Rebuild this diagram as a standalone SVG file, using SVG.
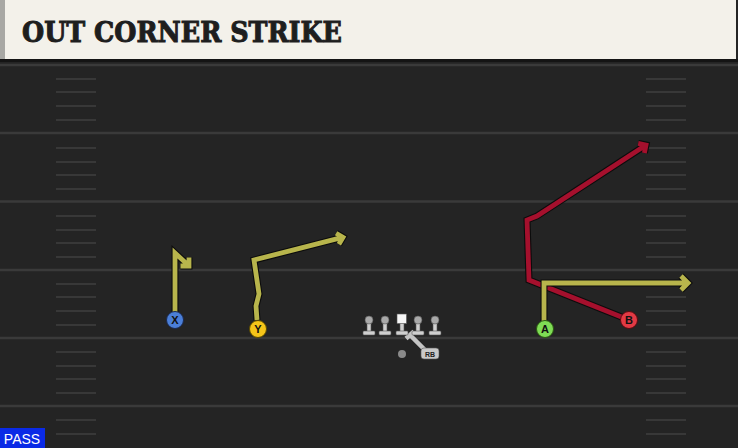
<svg xmlns="http://www.w3.org/2000/svg" width="738" height="448" viewBox="0 0 738 448">
<defs>
<style>
.yl{stroke:#3a3a3a;stroke-width:2.5}
.hm{stroke:#383838;stroke-width:2}
.rt-o{fill:none;stroke:#0c0c0c;stroke-width:7;stroke-linejoin:miter;stroke-linecap:butt}
.rt-y{fill:none;stroke:#b8b54c;stroke-width:4.8;stroke-linejoin:miter}
.rt-r{fill:none;stroke:#a5102d;stroke-width:4.8;stroke-linejoin:miter}
.lbl{font-family:"Liberation Sans",Arial,sans-serif;font-weight:bold;font-size:11px;text-anchor:middle;fill:#111}
.ol{fill:#cfcfcf;stroke:#555;stroke-width:0.6}
.olh{fill:#a9a9a9;stroke:#555;stroke-width:0.6}
</style>
<g id="lineman">
<rect x="-2" y="-8" width="4" height="8.5" class="ol"/>
<circle cx="0" cy="-11" r="4" class="olh"/>
<rect x="-6" y="0" width="12" height="4" rx="1" class="ol"/>
</g>
</defs>
<rect width="738" height="448" fill="#242424"/>
<g id="field">
<line x1="0" y1="65" x2="738" y2="65" class="yl"/>
<line x1="0" y1="133" x2="738" y2="133" class="yl"/>
<line x1="0" y1="201.5" x2="738" y2="201.5" class="yl"/>
<line x1="0" y1="270" x2="738" y2="270" class="yl"/>
<line x1="0" y1="338" x2="738" y2="338" class="yl"/>
<line x1="0" y1="406" x2="738" y2="406" class="yl"/>
<g class="hm">
<path d="M56,79H96M56,92H96M56,106H96M56,120H96M56,148H96M56,162H96M56,175H96M56,189H96M56,216H96M56,230H96M56,243H96M56,257H96M56,284H96M56,297H96M56,311H96M56,325H96M56,352H96M56,366H96M56,379H96M56,393H96M56,420H96M56,434H96"/>
<path d="M646,79H686M646,92H686M646,106H686M646,120H686M646,148H686M646,162H686M646,175H686M646,189H686M646,216H686M646,230H686M646,243H686M646,257H686M646,284H686M646,297H686M646,311H686M646,325H686M646,352H686M646,366H686M646,379H686M646,393H686M646,420H686M646,434H686"/>
</g>
</g>
<g id="header">
<rect x="0" y="0" width="736" height="59" fill="#f3f1ea"/>
<rect x="0" y="0" width="5" height="59" fill="#a8a8a4"/>
<rect x="0" y="59" width="738" height="3" fill="#141414"/>
<text x="22" y="42" font-family="'DejaVu Serif',serif" font-weight="bold" font-size="27" textLength="320" lengthAdjust="spacingAndGlyphs" fill="#1e1e1e" stroke="#1e1e1e" stroke-width="1">OUT CORNER STRIKE</text>
</g>
<g id="connectors">
<path d="M175,312 V253 L187.5,264.5 M189,257.5 V266 H180.5" class="rt-o"/>
<path d="M175,312 V253 L187.5,264.5 M189,257.5 V266 H180.5" class="rt-y"/>
<path d="M257,320 L256,306 L259,294 L254,260 L341.5,237.7 M338.9,244.2 L343,237.3 L336.1,233.2" class="rt-o"/>
<path d="M257,320 L256,306 L259,294 L254,260 L341.5,237.7 M338.9,244.2 L343,237.3 L336.1,233.2" class="rt-y"/>
<path d="M629,320 L529,280 L527,220 L537,216 L644.5,146 M644.4,152.9 L646,145 L638.2,143.4" class="rt-o"/>
<path d="M629,320 L529,280 L527,220 L537,216 L644.5,146 M644.4,152.9 L646,145 L638.2,143.4" class="rt-r"/>
<path d="M544,321 V283 H687 M681,276 L688,283 L681,290" class="rt-o"/>
<path d="M544,321 V283 H687 M681,276 L688,283 L681,290" class="rt-y"/>
<path d="M425,350 L410,335 M406,338.5 L414,331.5" fill="none" stroke="#c4c4c4" stroke-width="4.5"/>
</g>
<g id="player-x">
<circle cx="175" cy="320" r="8.5" fill="#4b7fd8" stroke="#1a2a50" stroke-width="1"/>
<text x="175" y="324" class="lbl">X</text>
</g>
<g id="player-y">
<circle cx="258" cy="329" r="8.5" fill="#f6c519" stroke="#5a4a00" stroke-width="1"/>
<text x="258" y="333" class="lbl">Y</text>
</g>
<g id="player-a">
<circle cx="545" cy="329" r="8.5" fill="#7fdc55" stroke="#2a5a10" stroke-width="1"/>
<text x="545" y="333" class="lbl">A</text>
</g>
<g id="player-b">
<circle cx="629" cy="320" r="8.5" fill="#e23a44" stroke="#5a0a10" stroke-width="1"/>
<text x="629" y="324" class="lbl">B</text>
</g>
<g id="ol">
<use href="#lineman" x="369" y="331"/>
<use href="#lineman" x="385" y="331"/>
<g id="center">
<rect x="400" y="323" width="4" height="8.5" class="ol"/>
<rect x="397" y="314" width="9.5" height="9.5" fill="#f6f6f6" stroke="#555" stroke-width="0.6"/>
<rect x="396" y="331" width="12" height="4" rx="1" class="ol"/>
</g>
<use href="#lineman" x="418" y="331"/>
<use href="#lineman" x="435" y="331"/>
</g>
<g id="qb">
<circle cx="402" cy="354" r="4" fill="#8a8a8a"/>
</g>
<g id="rb">
<rect x="421" y="348" width="18" height="11" rx="3" fill="#c9c9c9" stroke="#555" stroke-width="0.6"/>
<text x="430" y="356.5" font-family="'Liberation Sans',Arial,sans-serif" font-weight="bold" font-size="7" text-anchor="middle" fill="#222">RB</text>
</g>
<g id="pass-tag">
<rect x="0" y="428" width="45" height="20" fill="#0a2ae6"/>
<text x="22" y="444" font-family="'Liberation Sans',Arial,sans-serif" font-size="14" text-anchor="middle" fill="#fff">PASS</text>
</g>
</svg>
